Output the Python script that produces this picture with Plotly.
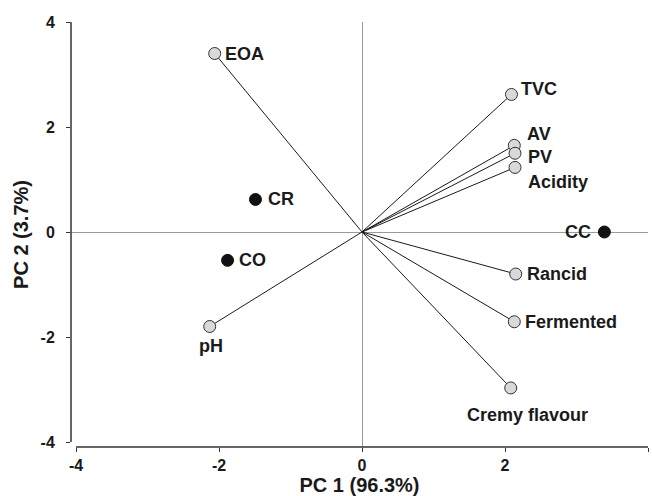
import plotly.graph_objects as go

# PCA biplot: variable loadings (open circles with vectors) and samples (filled)
variables = ["EOA", "TVC", "AV", "PV", "Acidity", "Rancid", "Fermented", "Cremy flavour", "pH"]
var_pc1 = [-2.06, 2.09, 2.13, 2.14, 2.14, 2.15, 2.13, 2.08, -2.13]
var_pc2 = [3.40, 2.62, 1.65, 1.50, 1.23, -0.80, -1.71, -2.97, -1.80]

samples = ["CC", "CO", "CR"]
smp_pc1 = [3.39, -1.88, -1.49]
smp_pc2 = [0.00, -0.54, 0.62]

tick_vals = [-4, -2, 0, 2, 4]
tick_text = ["-4", "-2", "0", "2", "4"]

# label placement: (xanchor, yanchor, xshift px, yshift px)
label_place = {
    "EOA": ("left", "middle", 8, 0),
    "TVC": ("left", "middle", 8, 5),
    "AV": ("left", "middle", 11, 11),
    "PV": ("left", "middle", 11, -4),
    "Acidity": ("left", "middle", 11, -15),
    "Rancid": ("left", "middle", 9, 0),
    "Fermented": ("left", "middle", 9, 0),
    "Cremy flavour": ("center", "middle", 17, -27),
    "pH": ("center", "middle", 1, -19),
    "CC": ("right", "middle", -11, 0),
    "CO": ("left", "middle", 9, 0),
    "CR": ("left", "middle", 11, 0),
}

FONT = "Liberation Sans, Arial, sans-serif"
INK = "#1a1a1a"

fig = go.Figure()

# vectors from origin to each variable
vx, vy = [], []
for x, y in zip(var_pc1, var_pc2):
    vx += [0, x, None]
    vy += [0, y, None]
fig.add_trace(go.Scatter(x=vx, y=vy, mode="lines",
                         line=dict(color=INK, width=1), hoverinfo="skip"))

fig.add_trace(go.Scatter(x=var_pc1, y=var_pc2, mode="markers", text=variables,
                         marker=dict(size=12, color="#d9d9d9",
                                     line=dict(color="#333333", width=1))))
fig.add_trace(go.Scatter(x=smp_pc1, y=smp_pc2, mode="markers", text=samples,
                         marker=dict(size=12, color="#111111",
                                     line=dict(color="#111111", width=1))))

for name, x, y in list(zip(variables, var_pc1, var_pc2)) + list(zip(samples, smp_pc1, smp_pc2)):
    xa, ya, xs, ys = label_place[name]
    fig.add_annotation(x=x, y=y, text=name, showarrow=False,
                       xanchor=xa, yanchor=ya, xshift=xs, yshift=ys,
                       font=dict(family=FONT, size=18, color=INK, weight="bold"))

# offset axis spines spanning only -4..4
fig.add_shape(type="line", xref="x", yref="paper", x0=-4, x1=4, y0=0, y1=0,
              line=dict(color="#333333", width=1.5))
fig.add_shape(type="line", xref="paper", yref="y", x0=0, x1=0, y0=-4, y1=4,
              line=dict(color="#333333", width=1.5))

axis_common = dict(
    tickvals=tick_vals, ticktext=tick_text, ticks="outside", ticklen=4, tickwidth=1,
    tickcolor="#333333", showgrid=False, showline=False, zeroline=True,
    zerolinecolor="#9a9a9a", zerolinewidth=1, automargin=False,
    tickfont=dict(family=FONT, size=16, color=INK, weight="bold"),
)

fig.update_xaxes(range=[-4.07, 4.0], title=dict(text="PC 1 (96.3%)", standoff=6,
                 font=dict(family=FONT, size=20, color=INK, weight="bold")),
                 **axis_common)
fig.update_yaxes(range=[-4.095, 4.0], ticklabelstandoff=8,
                 title=dict(text="PC 2 (3.7%)", standoff=6,
                            font=dict(family=FONT, size=20, color=INK, weight="bold")),
                 **axis_common)

fig.update_layout(
    width=652, height=496, showlegend=False,
    margin=dict(l=71, r=4, t=22, b=49),
    plot_bgcolor="white", paper_bgcolor="white",
)

fig.write_html("out.html")
